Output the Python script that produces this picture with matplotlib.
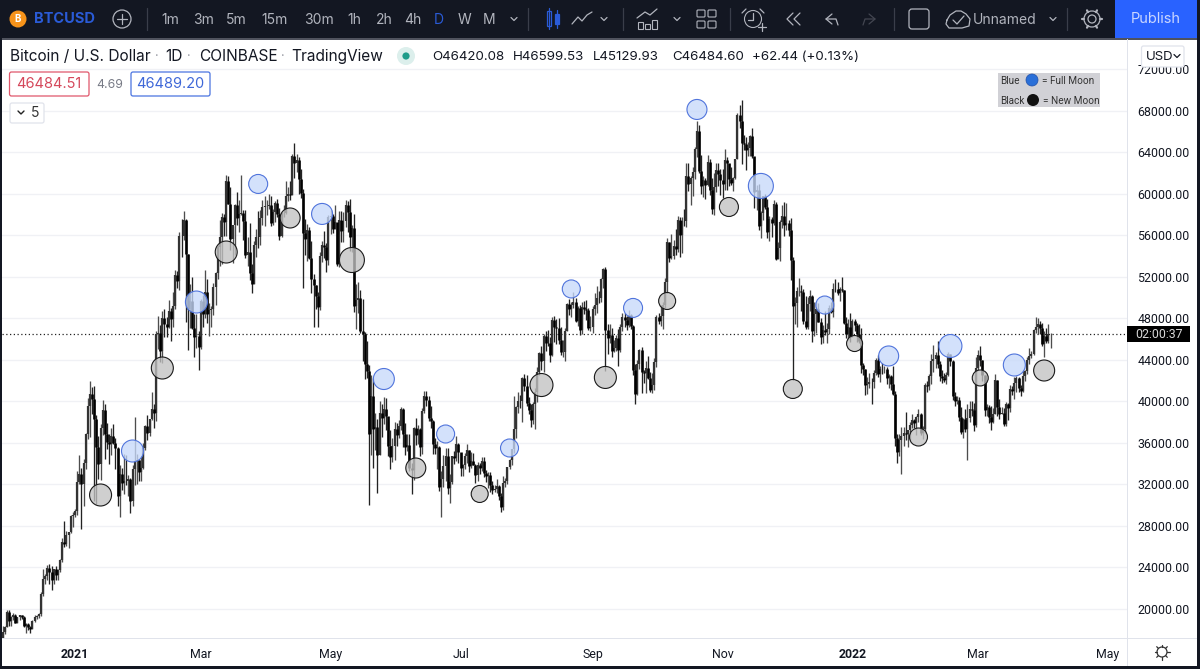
"""BTCUSD daily chart with full/new moon circles (TradingView screenshot look)"""
import matplotlib
matplotlib.use('Agg')
import matplotlib.dates as mdates
import matplotlib.pyplot as plt
import numpy as np
import pandas as pd
from matplotlib.patches import Circle, FancyBboxPatch, Rectangle

plt.rcParams['font.family'] = ['Inter', 'DejaVu Sans']

# ---- daily data, one row per month, starting 2020-11-28 ----
first_open = 17150
closes = [
    17720, 18180, 19630,
    18780, 19210, 19420, 18650, 19150, 19360, 19170, 18320, 18540, 18250, 18030, 18800, 19160, 19270, 19440, 21350, 22800, 23130, 23860, 23480, 22730, 23820, 23240, 23730, 24660, 26440, 26250, 27040, 27360, 28880, 28990,
    29400, 32190, 33000, 31990, 33990, 36810, 39480, 40670, 40240, 38240, 35540, 33930, 37390, 39150, 36830, 36020, 35820, 36630, 35910, 35490, 30840, 33000, 32090, 32280, 32260, 32470, 30400, 33420, 34260, 34320, 33110,
    33520, 35510, 37620, 36950, 38290, 39260, 38870, 46450, 46510, 44840, 47990, 47380, 47120, 48680, 47940, 49130, 52120, 51590, 55890, 55880, 57410, 54130, 48880, 49680, 47000, 46140, 46300, 45240,
    49600, 48370, 50540, 48370, 48760, 48880, 50970, 52380, 54880, 55850, 57770, 57220, 61180, 59000, 55630, 56920, 58920, 57650, 58030, 58100, 57350, 54080, 54340, 52300, 51310, 55030, 55840, 55780, 57630, 58740, 58790,
    58800, 58930, 57170, 58200, 59130, 58060, 55950, 58090, 58100, 59770, 59980, 59860, 63580, 62970, 63220, 61380, 60030, 56150, 55660, 56470, 53810, 51730, 51150, 50110, 49070, 54020, 55030, 54880, 53570, 57700,
    57830, 56620, 57210, 53240, 57480, 56430, 57340, 58930, 58240, 55840, 56700, 49150, 49700, 49930, 46760, 46450, 43540, 42910, 36830, 40530, 37300, 37500, 34770, 38820, 38330, 39210, 38530, 35660, 34610, 35680, 37330,
    36690, 37560, 39190, 36850, 35520, 35800, 33570, 33380, 37390, 36690, 37340, 35550, 39020, 40520, 40140, 38350, 38090, 35820, 35480, 35600, 31680, 32500, 33690, 34660, 31640, 32240, 34700, 34490, 35900, 35040,
    33540, 33800, 34680, 35290, 33700, 34230, 33860, 32860, 33810, 33510, 34260, 33090, 32730, 32820, 31880, 31380, 31520, 31790, 30840, 29790, 32140, 32290, 33650, 34290, 35380, 37270, 39460, 40020, 40010, 42230, 41460,
    39850, 39150, 38200, 39720, 40880, 42840, 44610, 43810, 46280, 45580, 45560, 44400, 47830, 47110, 47020, 45900, 44690, 44740, 46760, 49330, 48870, 49280, 49520, 47710, 48980, 46850, 49070, 48900, 48800, 46990, 47110,
    48850, 49280, 49940, 49920, 51790, 52700, 46880, 46070, 46390, 44850, 45150, 46060, 44960, 47100, 48120, 47770, 47280, 48300, 47260, 43010, 40700, 43570, 44890, 42840, 42700, 43200, 42170, 41030, 41520, 43790,
    48140, 47700, 48200, 49230, 51500, 55340, 53800, 53950, 54960, 54680, 57480, 56000, 57370, 57360, 61670, 60880, 61500, 62040, 64260, 65990, 62200, 60690, 61300, 60860, 63080, 60330, 58480, 60600, 62270, 61890, 61340,
    60950, 63220, 62930, 61440, 61010, 61530, 63310, 67550, 66950, 64880, 64780, 64150, 64400, 65500, 63600, 60160, 60370, 56900, 58100, 59750, 58700, 56280, 57560, 57170, 58960, 53730, 54720, 57290, 57800, 56950,
    57200, 56500, 53600, 49200, 49400, 50580, 50620, 50500, 47670, 47150, 49380, 50100, 46740, 48350, 48880, 47640, 46170, 46870, 46680, 46900, 48950, 48600, 50820, 50800, 50410, 50800, 50700, 47540, 46460, 47120, 46210,
    47720, 47300, 46440, 45830, 43430, 43080, 41550, 41680, 41860, 41830, 42740, 43920, 42590, 43080, 43070, 43080, 42230, 42380, 41680, 40700, 36450, 35050, 36280, 36670, 36960, 36830, 37160, 37720, 38170, 37920, 38490,
    38740, 36900, 37320, 41570, 41400, 42410, 43840, 44040, 44400, 43520, 42390, 42210, 42060, 42540, 44570, 43880, 40520, 39970, 40110, 38430, 37020, 38240, 37260, 38330, 39210, 39110, 37710, 43180,
    44420, 43920, 42460, 39150, 39400, 38420, 38020, 38730, 41980, 39440, 38740, 38810, 37790, 39670, 39280, 41120, 40920, 41770, 42240, 41280, 41000, 42370, 42890, 43970, 44330, 44500, 46840, 47130, 47440, 47060, 45530,
    46300, 45810, 46420.08, 46484.60,
]
highs = [
    18300, 18350, 19860,
    19900, 19310, 19560, 19500, 19170, 19420, 19400, 19290, 18640, 18560, 18290, 18930, 19400, 19350, 19550, 21550, 23770, 23280, 24170, 24300, 24100, 23850, 24100, 23780, 24800, 26800, 28400, 27500, 27400, 29000, 29300,
    29600, 33300, 34800, 33500, 34400, 36900, 40300, 41950, 41350, 41400, 38650, 36600, 37800, 40100, 39700, 37900, 36800, 37400, 37800, 36400, 35600, 33800, 33500, 34900, 34800, 32900, 32550, 33800, 38500, 34900, 34300,
    34700, 35950, 37700, 38650, 38300, 40900, 39700, 46750, 48200, 47300, 48700, 48900, 48100, 49700, 49000, 50500, 52600, 52500, 56300, 57500, 58350, 57500, 54200, 51300, 52000, 48400, 48400, 46700,
    49800, 50200, 52600, 51800, 49400, 49200, 51400, 52400, 55000, 57400, 58100, 58000, 61800, 61700, 60600, 56900, 58950, 60100, 59400, 61800, 58400, 58400, 55800, 57200, 53200, 55400, 56600, 58300, 58400, 59400, 59800,
    59400, 60000, 59800, 58500, 59250, 59450, 58600, 58200, 58900, 61200, 60600, 61200, 63800, 64900, 63800, 63500, 62400, 60400, 57500, 57100, 56800, 55400, 52200, 51200, 50500, 54400, 55400, 56400, 55200, 57900,
    58400, 58000, 58900, 57200, 58300, 58300, 58200, 59400, 59300, 59500, 57000, 58000, 51300, 51500, 50700, 49800, 46650, 45800, 43500, 42500, 42200, 38800, 38300, 40000, 39700, 40400, 40300, 38100, 37200, 36400, 38000,
    37900, 38200, 39400, 39300, 37900, 36800, 36800, 34000, 37500, 38400, 37700, 37400, 39300, 41000, 40980, 40500, 39500, 38200, 36450, 36100, 35700, 33300, 34800, 35500, 35500, 33000, 34700, 35200, 36600, 36000,
    35000, 33900, 34950, 35900, 35250, 35100, 35000, 33900, 34100, 34000, 34600, 34600, 33350, 33150, 33150, 32250, 31950, 32450, 31900, 31100, 32800, 32600, 33600, 34450, 35400, 40500, 39500, 40900, 40600, 42300, 42600,
    42500, 40400, 39700, 39900, 41300, 43300, 44700, 45300, 46500, 46700, 46800, 46200, 48100, 48200, 47900, 48000, 47100, 45900, 47000, 49400, 49800, 49500, 50500, 49900, 49200, 49300, 49500, 49600, 49700, 49000, 48200,
    49200, 50400, 51100, 50600, 51900, 52850, 52950, 47400, 47400, 47000, 45900, 46400, 46900, 47400, 48500, 48500, 48200, 48800, 48400, 47300, 43600, 44000, 45000, 45200, 43000, 43900, 44300, 42800, 42700, 44100,
    48300, 48500, 49300, 49500, 51900, 55700, 55300, 56100, 55500, 56600, 57800, 57700, 57700, 58500, 62900, 62900, 61700, 62600, 64500, 67000, 66600, 63700, 61700, 61500, 63700, 63300, 61500, 62000, 62900, 62900, 62400,
    62400, 64300, 63500, 62800, 62600, 61600, 63300, 67800, 68500, 69000, 65600, 65400, 65000, 65600, 66300, 63500, 60800, 60900, 58300, 59800, 60000, 59500, 57800, 57700, 59400, 59200, 55300, 57400, 58900, 59200,
    59100, 57400, 57600, 53900, 50000, 51000, 51900, 51200, 50800, 50100, 50000, 50700, 50200, 49500, 49500, 49400, 48000, 47300, 48700, 47500, 49300, 49500, 51400, 51800, 51500, 51000, 52000, 50700, 48100, 47900, 48500,
    47900, 47900, 47500, 47400, 47000, 43700, 43100, 42300, 42700, 42200, 43000, 44100, 44400, 43400, 43700, 43400, 43300, 42600, 42500, 43400, 41000, 36800, 36800, 37500, 37500, 38900, 37200, 38000, 38700, 38300, 38600,
    39200, 38800, 37600, 41700, 41900, 42600, 44500, 45400, 44700, 45800, 43900, 43000, 42700, 42800, 44700, 44500, 44000, 40900, 40500, 40400, 39400, 38400, 39200, 39700, 40000, 40000, 39800, 44200,
    44900, 45300, 44000, 42500, 39700, 39600, 39500, 39300, 42600, 42000, 40200, 39400, 39300, 39900, 39800, 41500, 41400, 42300, 42400, 42300, 41500, 43000, 43000, 44200, 45100, 44800, 46900, 48100, 48000, 47700, 47500,
    46700, 47000, 47400, 46599.53,
]
lows = [
    16880, 17500, 18180,
    18330, 18350, 18890, 18640, 18600, 18900, 19000, 18200, 17650, 17910, 17600, 18000, 18700, 19020, 19050, 19270, 21240, 22400, 22750, 22400, 21800, 22350, 22700, 22700, 23500, 24500, 25900, 26000, 25850, 27320, 27850,
    28800, 29000, 32000, 27700, 29900, 33400, 36300, 36500, 38700, 30400, 30100, 32500, 32400, 36700, 34400, 35400, 33900, 34800, 35900, 33400, 29900, 28800, 31400, 31000, 31900, 30850, 29250, 29900, 31900, 32000, 32300,
    32300, 33400, 35300, 36200, 36600, 38150, 37400, 38050, 45000, 43800, 43700, 46200, 46200, 47000, 45800, 47100, 48900, 50900, 50700, 53900, 55500, 47600, 44900, 47000, 46900, 44200, 45100, 43000,
    45000, 47100, 48000, 47500, 46300, 47100, 48300, 49300, 51800, 53000, 53200, 55900, 55900, 59000, 54600, 53300, 54100, 57000, 56300, 57900, 55500, 53800, 53000, 51700, 50400, 51300, 53900, 54700, 55000, 57000, 56900,
    57900, 58500, 56900, 57000, 57250, 57700, 55500, 55800, 57700, 58000, 59300, 59400, 59850, 61500, 62100, 60000, 59600, 50900, 54100, 53500, 53700, 50400, 47100, 48900, 47100, 48800, 53400, 53800, 52400, 53100,
    56100, 56200, 56600, 53000, 52900, 55300, 55300, 56800, 56300, 54500, 54400, 48600, 46900, 48500, 46600, 43900, 42100, 42200, 30000, 34800, 33500, 35300, 31100, 34800, 36500, 37800, 37200, 34700, 33400, 34100, 34300,
    35700, 36400, 37200, 35600, 34800, 35200, 33300, 31000, 32400, 35800, 35900, 34700, 34900, 38800, 39500, 38100, 37400, 34900, 34900, 33400, 31300, 28800, 31700, 32300, 31000, 30200, 32000, 33900, 34200, 34000,
    32750, 32750, 33400, 34000, 33200, 33500, 33800, 32100, 32300, 33000, 33300, 32700, 32200, 31600, 31200, 31050, 31200, 31100, 30500, 29300, 29500, 31700, 32000, 33400, 33800, 35000, 36400, 38800, 39300, 38000, 41000,
    39500, 38700, 37500, 37800, 37300, 39900, 42500, 43000, 42800, 44800, 45300, 43800, 44300, 45700, 45500, 45500, 44400, 44200, 43900, 46700, 48300, 48100, 49000, 47600, 47200, 46400, 46500, 48400, 47800, 46800, 46700,
    46600, 48300, 48500, 49400, 49500, 50900, 42900, 44500, 45600, 44200, 44700, 44800, 43400, 44700, 46700, 47100, 46800, 47100, 46900, 42500, 39700, 40600, 43100, 40800, 41700, 40800, 42100, 40900, 40800, 41100,
    43300, 47400, 47200, 46900, 49000, 50400, 53400, 53700, 53700, 54100, 54400, 53900, 54300, 56900, 56800, 60200, 58900, 59800, 61400, 63500, 62000, 60000, 59700, 59500, 60700, 59900, 58000, 57900, 60100, 60700, 59900,
    59600, 60300, 60300, 60700, 60800, 60200, 61400, 63300, 66300, 62800, 64200, 62300, 63600, 63600, 63400, 58600, 58400, 56500, 55700, 57400, 58500, 55700, 55400, 55800, 57000, 53600, 53700, 53500, 56700, 55900,
    56500, 55900, 51700, 42000, 47400, 47100, 50100, 48700, 47400, 46900, 46900, 48700, 45700, 46300, 46600, 47600, 45500, 45600, 46400, 45600, 46500, 48500, 48100, 50500, 50200, 49600, 50500, 47400, 46100, 45900, 45700,
    46200, 46700, 45700, 45600, 42700, 42500, 40600, 40700, 41300, 39700, 41300, 42500, 42300, 41800, 42600, 42700, 41600, 41300, 41100, 40600, 35700, 34000, 34700, 33000, 35700, 36200, 35600, 36200, 37400, 37400, 36700,
    38000, 36700, 36300, 36900, 40900, 41100, 41600, 42800, 43200, 43200, 41900, 41700, 41800, 41600, 42400, 43400, 40100, 39500, 39700, 38100, 36800, 36400, 37000, 34300, 38000, 38600, 37100, 37500,
    43000, 43400, 41900, 38600, 38600, 37900, 37200, 37900, 38700, 38600, 38300, 38700, 37600, 37600, 38200, 38900, 40600, 40200, 40900, 40900, 40500, 40900, 41900, 42600, 43600, 44100, 44400, 46600, 46500, 46500, 45300,
    44200, 45600, 45600, 45129.93,
]

full_dates = ['2021-01-28', '2021-02-27', '2021-03-28', '2021-04-27', '2021-05-26',
              '2021-06-24', '2021-07-24', '2021-08-22', '2021-09-20', '2021-10-20',
              '2021-11-19', '2021-12-19', '2022-01-18', '2022-02-16', '2022-03-18']
full_prices = [35180, 49540, 60920, 58030, 42120, 36820, 35470, 50800, 48970, 68100,
               60730, 49250, 44340, 45300, 43470]
full_radius = [11, 11, 9.5, 10.5, 10.5, 9, 9, 9, 9.5, 10, 12.5, 9, 10, 11.5, 11]

new_dates = ['2021-01-13', '2021-02-11', '2021-03-13', '2021-04-12', '2021-05-11',
             '2021-06-10', '2021-07-10', '2021-08-08', '2021-09-07', '2021-10-06',
             '2021-11-04', '2021-12-04', '2022-01-02', '2022-02-01', '2022-03-02', '2022-04-01']
new_prices = [30940, 43180, 54360, 57640, 53590, 33540, 31040, 41540, 42270, 49640,
              58700, 41160, 45540, 36530, 42220, 42940]
new_radius = [11, 11, 11, 10, 12.5, 10, 8.5, 11.5, 11, 8.5, 9.5, 9.5, 8, 9, 8, 10.5]

price_ticks = [20000, 24000, 28000, 32000, 36000, 40000, 44000, 48000, 52000, 56000,
               60000, 64000, 68000, 72000]
time_ticks = ['2021-01-01', '2021-03-01', '2021-05-01', '2021-07-01', '2021-09-01',
              '2021-11-01', '2022-01-01', '2022-03-01', '2022-05-01']
time_labels = ['2021', 'Mar', 'May', 'Jul', 'Sep', 'Nov', '2022', 'Mar', 'May']
last_price = 46484.60

print(len(closes), len(highs), len(lows))

# ---- scale of the screenshot ----
PX_PER_DAY = 2.13
PX_PER_USD = 0.010375
DARK = '#131722'
PANE_L, PANE_R, PANE_T, PANE_B = 2, 1127, 39, 638
W, H = 1200, 669


def px_x(px):
    return mdates.date2num(pd.Timestamp('2021-01-01')) + (px - 75) / PX_PER_DAY


def px_y(px):
    return 20000 + (608.5 - px) / PX_PER_USD


def marker_area(radius):
    return (2 * np.array(radius) * 72 / 100) ** 2


fig = plt.figure(figsize=(12, 6.69), dpi=100, facecolor='white')

# ---- chart pane ----
ax = fig.add_axes([PANE_L / W, 1 - PANE_B / H, (PANE_R - PANE_L) / W, (PANE_B - PANE_T) / H])
ax.set_xlim(px_x(PANE_L), px_x(PANE_R))
ax.set_ylim(px_y(PANE_B), px_y(PANE_T))
for sp in ax.spines.values():
    sp.set_visible(False)

days = mdates.date2num(pd.date_range('2020-11-28', periods=len(closes), freq='D'))
c = np.array(closes, dtype=float)
o = np.r_[first_open, c[:-1]]
h = np.array(highs, dtype=float)
l = np.array(lows, dtype=float)
up = c >= o
ax.vlines(days[up], l[up], h[up], color='#4d4d4d', linewidth=0.95, zorder=3)
ax.vlines(days[~up], l[~up], h[~up], color='#222222', linewidth=0.95, zorder=3)
ax.vlines(days[up], o[up], c[up], color='#333333', linewidth=1.6, zorder=4)
ax.vlines(days[~up], c[~up], o[~up], color='black', linewidth=1.9, zorder=4)

ax.axhline(last_price, color='#222222', linewidth=0.9, linestyle=(0, (1, 2)), zorder=2)

ax.scatter(mdates.date2num(pd.to_datetime(full_dates)), full_prices, s=marker_area(full_radius),
           facecolor=(0.78, 0.85, 0.98, 0.78), edgecolor='#5074dc', linewidth=0.8, zorder=6)
ax.scatter(mdates.date2num(pd.to_datetime(new_dates)), new_prices, s=marker_area(new_radius),
           facecolor=(0.76, 0.76, 0.76, 0.78), edgecolor='#1a1a1a', linewidth=0.8, zorder=6)

ax.set_yticks(price_ticks)
ax.set_yticklabels([f'{p:.2f}' for p in price_ticks], family='Roboto')
ax.yaxis.tick_right()
ax.grid(axis='y', color='#f0f1f5', linewidth=1.0, zorder=0)
ax.set_axisbelow(True)
ax.set_xticks(mdates.date2num(pd.to_datetime(time_ticks)))
ax.set_xticklabels(time_labels, family='Roboto')
ax.tick_params(axis='y', length=0, pad=7.5, labelsize=8.9, labelcolor=DARK)
ax.tick_params(axis='x', length=0, pad=7, labelsize=8.9, labelcolor=DARK)
for lab, txt in zip(ax.get_xticklabels(), time_labels):
    if txt.isdigit():
        lab.set_fontweight('bold')

# ---- screenshot furniture, in pixel coordinates ----
ui = fig.add_axes([0, 0, 1, 1], zorder=10)
ui.set_xlim(0, W)
ui.set_ylim(H, 0)
ui.axis('off')
ui.patch.set_alpha(0)


def rect(x0, y0, x1, y1, **kw):
    ui.add_patch(Rectangle((x0, y0), x1 - x0, y1 - y0, **kw))


def box(x0, y0, x1, y1, edge, face='white'):
    ui.add_patch(FancyBboxPatch((x0 + 2, y0 + 2), x1 - x0 - 4, y1 - y0 - 4, boxstyle='round,pad=2',
                                facecolor=face, edgecolor=edge, linewidth=0.9))


def line(xs, ys, color='#b2b5be', lw=0.9):
    ui.plot(xs, ys, color=color, linewidth=lw, solid_capstyle='round', solid_joinstyle='round')


def label(x, y, s, size=10, color='#b2b5be', ha='center', **kw):
    ui.text(x, y, s, fontsize=size, color=color, ha=ha, va='center', **kw)


def chevron(x, y, color='#b2b5be', lw=0.9):
    line([x - 3, x, x + 3], [y - 1.5, y + 1.5, y - 1.5], color=color, lw=lw)


rect(0, 0, W, 38, facecolor=DARK, edgecolor='none')
rect(0, 38, W, 39.5, facecolor='#50535e', edgecolor='none')
rect(0, 38, 2, H, facecolor=DARK, edgecolor='none')
rect(1197, 38, W, H, facecolor=DARK, edgecolor='none')
rect(0, 666, W, H, facecolor=DARK, edgecolor='none')
rect(1126.5, 39, 1127.5, 666, facecolor='#e0e3eb', edgecolor='none')
rect(2, 637.5, 1197, 638.5, facecolor='#e0e3eb', edgecolor='none')
rect(1115, 0, 1197, 38, facecolor='#2962ff', edgecolor='none')
label(1156, 19, 'Publish', size=10.5, color='#c9d6ff')

ui.add_patch(Circle((18, 19), 8.5, facecolor='#f7931a', edgecolor='none'))
label(18, 19, 'B', size=7, color='white', fontweight='bold')
label(34, 19, 'BTCUSD', size=10.5, color='#2a5bd7', ha='left', fontweight='bold')
ui.add_patch(Circle((122, 19), 9, facecolor='none', edgecolor='#b2b5be', linewidth=0.9))
line([117, 127], [19, 19])
line([122, 122], [14, 24])

for sep_x in [147, 528, 623, 730, 894, 1067]:
    line([sep_x, sep_x], [8, 30], color='#3a3e4a', lw=0.9)

for tx, ts in zip([170, 203, 236, 275, 319, 354, 384, 413, 464, 489],
                  ['1m', '3m', '5m', '15m', '30m', '1h', '2h', '4h', 'W', 'M']):
    label(tx, 19.5, ts, size=10)
label(439, 19.5, 'D', size=10, color='#2a5bd7')
chevron(514, 19)

# candle icon, line icon
rect(547, 11, 551, 26, facecolor='none', edgecolor='#2a5bd7', linewidth=0.9)
line([549, 549], [8, 29], color='#2a5bd7')
rect(555, 14, 559, 24, facecolor='#2a5bd7', edgecolor='#2a5bd7', linewidth=0.9)
line([557, 557], [10, 28], color='#2a5bd7')
line([572, 578, 582, 587, 592], [24, 17, 21, 15, 12])
chevron(604, 19)

# indicators, layout, alarm, replay, undo, redo
for bx, bt in zip([638, 645, 652], [22, 24, 20]):
    rect(bx, bt, bx + 5, 29, facecolor='none', edgecolor='#b2b5be', linewidth=0.8)
line([637, 645, 650, 657], [18, 12, 15, 9])
chevron(677, 19)
for gx in [698, 709]:
    for gy in [11, 22]:
        ui.add_patch(FancyBboxPatch((gx, gy), 6, 5, boxstyle='round,pad=1', facecolor='none',
                                    edgecolor='#b2b5be', linewidth=0.8))
ui.add_patch(Circle((753, 19), 8.5, facecolor='none', edgecolor='#b2b5be', linewidth=0.8))
line([753, 753, 748], [13, 20, 20])
line([758, 766], [27, 27])
line([762, 762], [23, 31])
line([746, 742], [9, 13])
line([760, 764], [9, 13])
line([793, 787, 793], [13, 19, 25])
line([800, 794, 800], [13, 19, 25])
line([832, 826, 832], [14, 19, 24])
line([826, 836, 838], [19, 19, 25])
line([869, 875, 869], [14, 19, 24], color='#434651')
line([875, 865, 863], [19, 19, 25], color='#434651')
ui.add_patch(FancyBboxPatch((912, 12), 14, 14, boxstyle='round,pad=3', facecolor='none',
                            edgecolor='#b2b5be', linewidth=0.9))
line([947, 950, 956, 961, 966, 970, 969, 962, 949, 946, 947],
     [20, 15, 11, 11, 14, 19, 26, 28, 28, 24, 20])
line([953, 957, 964], [20, 24, 16])
label(973, 19.5, 'Unnamed', size=10, ha='left')
chevron(1053, 19)

# gear
ui.add_patch(Circle((1092, 19), 4, facecolor='none', edgecolor='#b2b5be', linewidth=0.9))
ui.add_patch(Circle((1092, 19), 8, facecolor='none', edgecolor='#b2b5be', linewidth=0.9))
for ang in np.deg2rad(np.arange(0, 360, 60)):
    line([1092 + 8 * np.cos(ang), 1092 + 10 * np.cos(ang)],
         [19 + 8 * np.sin(ang), 19 + 10 * np.sin(ang)], lw=1.6)

# legend line
label(10, 56.5, 'Bitcoin / U.S. Dollar', size=11.1, color=DARK, ha='left')
label(157, 57, '·', size=9, color='#9598a1')
label(165, 56.5, '1D', size=11.1, color=DARK, ha='left')
label(189, 57, '·', size=9, color='#9598a1')
label(199, 56.5, 'COINBASE', size=11.1, color=DARK, ha='left')
label(283, 57, '·', size=9, color='#9598a1')
label(291, 56.5, 'TradingView', size=11.1, color=DARK, ha='left')
ui.add_patch(Circle((406, 56), 9, facecolor='#dcefec', edgecolor='none'))
ui.add_patch(Circle((406, 56), 3.6, facecolor='#1f9c8a', edgecolor='none'))
for qx, qs in zip([432, 513, 593, 672, 752],
                  ['O46420.08', 'H46599.53', 'L45129.93', 'C46484.60', '+62.44 (+0.13%)']):
    label(qx, 57, qs, size=9.6, color=DARK, ha='left')

box(9.5, 72, 89, 96, '#e0566b')
label(49, 84.5, '46484.51', size=10.5, color='#d5485b')
label(110, 85, '4.69', size=8.8, color='#787b86')
box(131, 72, 210, 96, '#4a74e0')
label(170.5, 84.5, '46489.20', size=10.5, color='#3f68d8')
box(10, 103, 44, 123, '#e0e3eb')
chevron(21, 112.5, color='#222222', lw=1.0)
label(35, 113, '5', size=10, color='#333333')

box(1141.5, 46, 1184, 67, '#e0e3eb')
label(1146, 56.5, 'USD', size=9.5, color=DARK, ha='left')
chevron(1177, 56, color=DARK)

# moon key
rect(998, 73, 1100, 107, facecolor='#d1d1d6', edgecolor='none')
label(1000, 81, 'Blue', size=7.2, color='#333333', ha='left', family='Roboto')
label(1000, 100.5, 'Black', size=7.2, color='#333333', ha='left', family='Roboto')
ui.add_patch(Circle((1032, 80), 6, facecolor='#2a6fd8', edgecolor='#1f4fa8', linewidth=0.5))
ui.add_patch(Circle((1033, 100), 6, facecolor='#111111', edgecolor='none'))
label(1042, 81, '= Full Moon', size=7.2, color='#333333', ha='left', family='Roboto')
label(1043, 100.5, '= New Moon', size=7.2, color='#333333', ha='left', family='Roboto')

# last price tag
rect(1127, 326, 1190, 342, facecolor='black', edgecolor='none')
label(1159, 334, '02:00:37', size=8.9, color='#d8d8d8', family='Roboto')

# sun icon
ui.add_patch(Circle((1162, 652), 5, facecolor='none', edgecolor='#333333', linewidth=0.9))
for ang in np.deg2rad(np.arange(0, 360, 45)):
    line([1162 + 5 * np.cos(ang), 1162 + 7.5 * np.cos(ang)],
         [652 + 5 * np.sin(ang), 652 + 7.5 * np.sin(ang)], color='#333333', lw=0.9)

fig.savefig('out.png', dpi=100)
